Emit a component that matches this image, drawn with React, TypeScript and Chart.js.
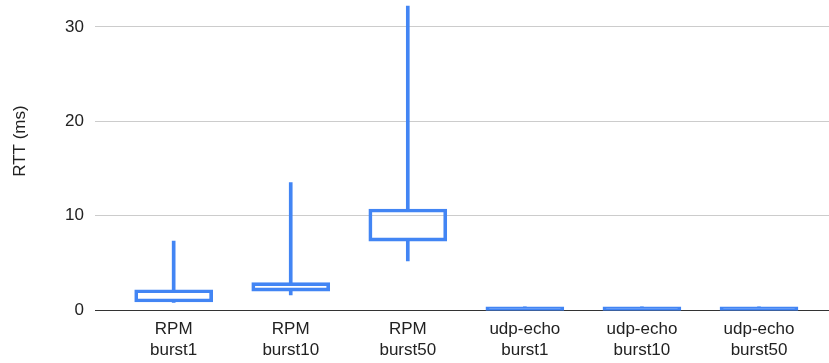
import React, { useEffect, useRef } from "react";
import { Chart, registerables } from "chart.js";

Chart.register(...registerables);

const categories = [
  "RPM burst1",
  "RPM burst10",
  "RPM burst50",
  "udp-echo burst1",
  "udp-echo burst10",
  "udp-echo burst50",
];
const lows = [0.8, 1.6, 5.2, -0.05, -0.05, -0.05];
const q1s = [0.85, 2.0, 7.3, -0.05, -0.05, -0.05];
const q3s = [2.15, 2.9, 10.7, 0.34, 0.34, 0.34];
const highs = [7.3, 13.5, 32.2, 0.34, 0.34, 0.34];
const yTicks = [0, 10, 20, 30];

const Y_MAX = 35.8;
const BLUE = "rgb(66,133,244)";
const FONT = "'Liberation Sans', Arial, sans-serif";

export default function App() {
  const ref = useRef<HTMLCanvasElement | null>(null);

  useEffect(() => {
    if (!ref.current) return;
    Chart.defaults.font.family = FONT;
    const idx = categories.map((_, i) => i);
    const chart = new Chart(ref.current, {
      type: "bar",
      data: {
        datasets: [
          {
            label: "box",
            order: 0,
            grouped: false,
            clip: 4,
            data: idx.map((i) => ({ x: i, y: [q1s[i], q3s[i]] })) as any,
            backgroundColor: idx.map((i) =>
              q3s[i] - q1s[i] < 0.5 ? BLUE : "rgba(0,0,0,0)"
            ),
            borderColor: BLUE,
            borderWidth: 3,
            borderSkipped: false,
            barThickness: 78,
          } as any,
          {
            label: "lower",
            order: 1,
            grouped: false,
            data: idx.map((i) => ({ x: i, y: [lows[i], q1s[i]] })) as any,
            backgroundColor: BLUE,
            borderWidth: 0,
            barThickness: 3,
          } as any,
          {
            label: "upper",
            order: 1,
            grouped: false,
            data: idx.map((i) => ({ x: i, y: [q3s[i], highs[i]] })) as any,
            backgroundColor: BLUE,
            borderWidth: 0,
            barThickness: 3,
          } as any,
        ],
      },
      options: {
        animation: false,
        responsive: true,
        maintainAspectRatio: false,
        layout: { padding: 0 },
        plugins: {
          legend: { display: false },
          tooltip: { enabled: false },
        },
        scales: {
          x: {
            type: "linear",
            offset: false,
            min: -0.672,
            max: 5.598,
            grid: { display: false, drawTicks: false },
            border: { display: false },
            afterBuildTicks: (scale: any) => {
              scale.ticks = idx.map((v) => ({ value: v }));
            },
            afterFit: (scale: any) => {
              scale.height = 53;
            },
            ticks: {
              autoSkip: false,
              maxRotation: 0,
              padding: 9,
              color: "#222",
              font: { size: 17, lineHeight: 1.24 },
              callback: (v: any) => {
                const c = categories[Math.round(Number(v))];
                return c ? c.split(" ") : "";
              },
            },
          },
          y: {
            type: "linear",
            min: 0,
            max: Y_MAX,
            border: { display: false },
            grid: {
              drawTicks: false,
              lineWidth: 1,
              color: (ctx: any) =>
                ctx.tick && ctx.tick.value === 0 ? "#333333" : "#cccccc",
            },
            afterBuildTicks: (scale: any) => {
              scale.ticks = [...yTicks, Y_MAX].map((v) => ({ value: v }));
            },
            afterFit: (scale: any) => {
              scale.width = 95;
            },
            ticks: {
              padding: 11,
              color: "#222",
              font: { size: 17 },
              callback: (v: any) => (yTicks.includes(Number(v)) ? String(v) : ""),
            },
            title: {
              display: true,
              text: "RTT (ms)",
              color: "#222",
              font: { size: 17 },
              padding: { top: 10, bottom: 0 },
            },
          },
        },
      },
    });
    return () => chart.destroy();
  }, []);

  return (
    <div
      style={{
        position: "absolute",
        left: 0,
        top: -49,
        width: 829,
        height: 412,
      }}
    >
      <canvas ref={ref} />
    </div>
  );
}
